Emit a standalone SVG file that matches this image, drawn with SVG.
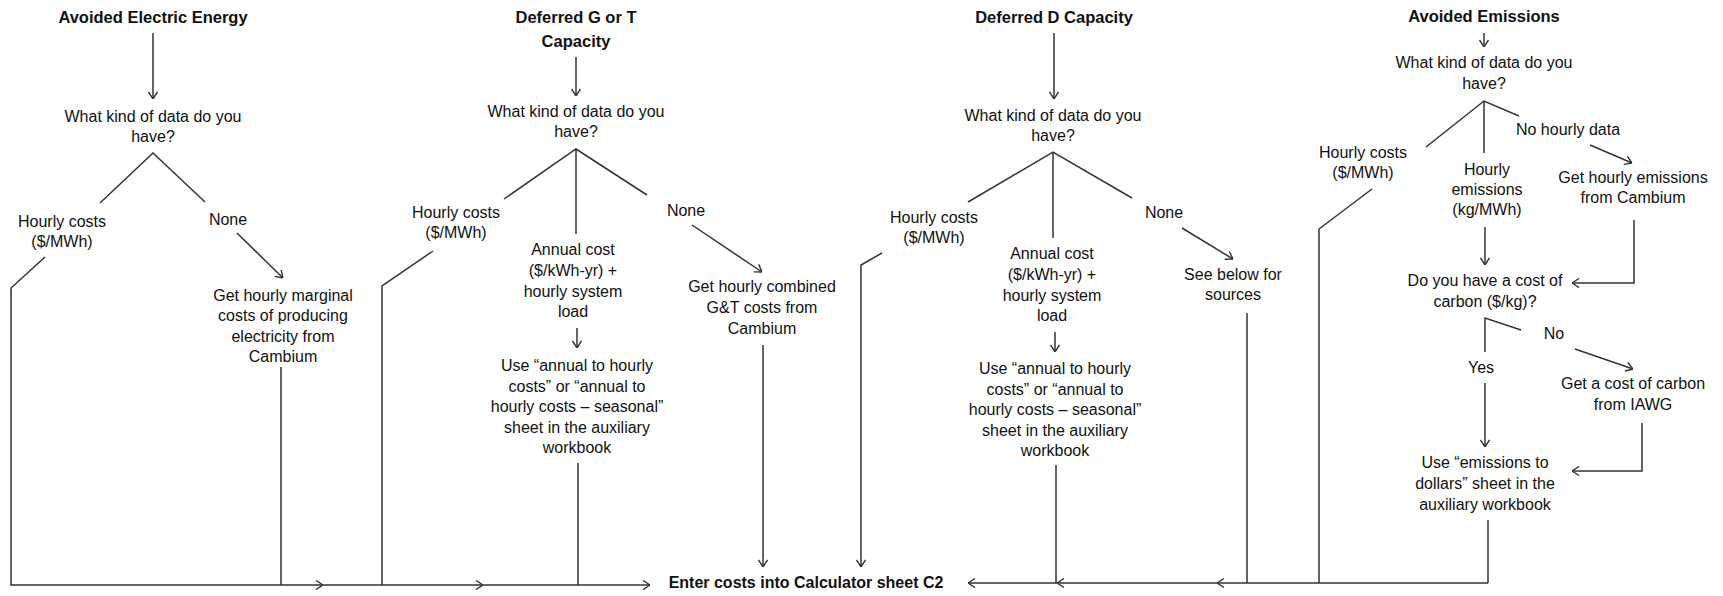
<svg xmlns="http://www.w3.org/2000/svg" width="1723" height="596" viewBox="0 0 1723 596">
<style>
text{font-family:"Liberation Sans",Arial,sans-serif;font-size:16px;fill:#111;text-anchor:middle}
.t{font-weight:bold;font-size:16.5px}
.c{fill:none;stroke:#333;stroke-width:1.5}
.a{marker-end:url(#ah)}
</style>
<defs>
<marker id="ah" viewBox="0 0 10 10" refX="10" refY="5" markerWidth="10" markerHeight="10" markerUnits="userSpaceOnUse" orient="auto">
<path d="M3,0.5 L10,5 L3,9.5" fill="none" stroke="#333" stroke-width="1.4"/>
</marker>
</defs>
<rect width="1723" height="596" fill="#fff"/>
<g id="connectors">
<!-- col1 -->
<path class="c a" d="M153,33 V99"/>
<path class="c" d="M100,203 L153,153 L205,202"/>
<path class="c a" d="M237,233 L283,278"/>
<path class="c a" d="M45,257 L11,288 V585 H323"/>
<path class="c a" d="M323,585 H483"/>
<path class="c a" d="M483,585 H650"/>
<path class="c" d="M281,367 V585"/>
<!-- col2 -->
<path class="c a" d="M576,57 V96"/>
<path class="c" d="M504,199 L576,149 L647,195 M576,149 V234"/>
<path class="c a" d="M692,225 L762,272"/>
<path class="c" d="M433,251 L382,286 V585"/>
<path class="c a" d="M577,328 V348"/>
<path class="c" d="M578,463 V585"/>
<path class="c a" d="M763,345 V567"/>
<!-- col3 -->
<path class="c a" d="M1054,33 V99"/>
<path class="c" d="M968,202 L1053,152 L1132,198 M1053,152 V238"/>
<path class="c a" d="M1182,228 L1233,259"/>
<path class="c a" d="M882,253 L861,265 V567"/>
<path class="c a" d="M1055,332 V352"/>
<path class="c" d="M1056,465 V583"/>
<path class="c" d="M1247,313 V583"/>
<path class="c a" d="M1488,583 H1217"/>
<path class="c a" d="M1217,583 H1057"/>
<path class="c a" d="M1057,583 H968"/>
<!-- col4 -->
<path class="c a" d="M1484,33 V47"/>
<path class="c" d="M1426,147 L1484,101 L1519,116 M1484,101 V153"/>
<path class="c a" d="M1590,145 L1632,163"/>
<path class="c" d="M1372,189 L1319,229 V583"/>
<path class="c a" d="M1485,227 V265"/>
<path class="c a" d="M1634,220 V283 H1572"/>
<path class="c" d="M1485,352 V318 L1521,330"/>
<path class="c a" d="M1575,349 L1633,369"/>
<path class="c a" d="M1485,383 V447"/>
<path class="c a" d="M1642,423 V471 H1572"/>
<path class="c" d="M1488,520 V583"/>
</g>
<g id="title-energy"><text class="t" x="153" y="23">Avoided Electric Energy</text></g>
<g id="q-energy"><text x="153" y="122">What kind of data do you</text><text x="153" y="142">have?</text></g>
<g id="hourly-energy"><text x="62" y="227">Hourly costs</text><text x="62" y="247">($/MWh)</text></g>
<g id="none-energy"><text x="228" y="225">None</text></g>
<g id="cambium-energy"><text x="283" y="301">Get hourly marginal</text><text x="283" y="321">costs of producing</text><text x="283" y="342">electricity from</text><text x="283" y="362">Cambium</text></g>

<g id="title-gt"><text class="t" x="576" y="23">Deferred G or T</text><text class="t" x="576" y="47">Capacity</text></g>
<g id="q-gt"><text x="576" y="117">What kind of data do you</text><text x="576" y="137">have?</text></g>
<g id="hourly-gt"><text x="456" y="218">Hourly costs</text><text x="456" y="238">($/MWh)</text></g>
<g id="none-gt"><text x="686" y="216">None</text></g>
<g id="annual-gt"><text x="573" y="255">Annual cost</text><text x="573" y="276">($/kWh-yr) +</text><text x="573" y="297">hourly system</text><text x="573" y="317">load</text></g>
<g id="use-gt"><text x="577" y="371">Use “annual to hourly</text><text x="577" y="391.5">costs” or “annual to</text><text x="577" y="412">hourly costs – seasonal”</text><text x="577" y="432.5">sheet in the auxiliary</text><text x="577" y="453">workbook</text></g>
<g id="cambium-gt"><text x="762" y="292">Get hourly combined</text><text x="762" y="313">G&amp;T costs from</text><text x="762" y="334">Cambium</text></g>

<g id="title-d"><text class="t" x="1054" y="23">Deferred D Capacity</text></g>
<g id="q-d"><text x="1053" y="121">What kind of data do you</text><text x="1053" y="141">have?</text></g>
<g id="hourly-d"><text x="934" y="223">Hourly costs</text><text x="934" y="243">($/MWh)</text></g>
<g id="none-d"><text x="1164" y="218">None</text></g>
<g id="annual-d"><text x="1052" y="259">Annual cost</text><text x="1052" y="280">($/kWh-yr) +</text><text x="1052" y="301">hourly system</text><text x="1052" y="321">load</text></g>
<g id="use-d"><text x="1055" y="374">Use “annual to hourly</text><text x="1055" y="395">costs” or “annual to</text><text x="1055" y="415">hourly costs – seasonal”</text><text x="1055" y="436">sheet in the auxiliary</text><text x="1055" y="456">workbook</text></g>
<g id="see-d"><text x="1233" y="280">See below for</text><text x="1233" y="300">sources</text></g>

<g id="title-em"><text class="t" x="1484" y="22">Avoided Emissions</text></g>
<g id="q-em"><text x="1484" y="68">What kind of data do you</text><text x="1484" y="89">have?</text></g>
<g id="hourly-em"><text x="1363" y="158">Hourly costs</text><text x="1363" y="178">($/MWh)</text></g>
<g id="emis-em"><text x="1487" y="175">Hourly</text><text x="1487" y="195">emissions</text><text x="1487" y="215">(kg/MWh)</text></g>
<g id="nohourly-em"><text x="1568" y="135">No hourly data</text></g>
<g id="cambium-em"><text x="1633" y="183">Get hourly emissions</text><text x="1633" y="203">from Cambium</text></g>
<g id="q2-em"><text x="1485" y="286">Do you have a cost of</text><text x="1485" y="307">carbon ($/kg)?</text></g>
<g id="no-em"><text x="1554" y="339">No</text></g>
<g id="yes-em"><text x="1481" y="373">Yes</text></g>
<g id="iawg-em"><text x="1633" y="389">Get a cost of carbon</text><text x="1633" y="410">from IAWG</text></g>
<g id="use-em"><text x="1485" y="468">Use “emissions to</text><text x="1485" y="489">dollars” sheet in the</text><text x="1485" y="510">auxiliary workbook</text></g>

<g id="enter"><text class="t" x="806" y="588" style="font-size:16px">Enter costs into Calculator sheet C2</text></g>
</svg>
